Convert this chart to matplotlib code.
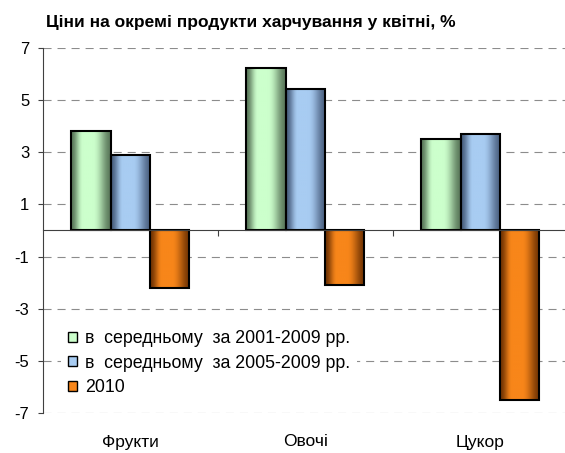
import numpy as np
import matplotlib
matplotlib.use("Agg")
import matplotlib.pyplot as plt
from matplotlib import transforms
from matplotlib.patches import Patch
from matplotlib.colors import to_rgb

plt.rcParams['font.family'] = ['Liberation Sans', 'DejaVu Sans']
plt.rcParams['lines.scale_dashes'] = False
plt.rcParams['axes.unicode_minus'] = False

title = "Ціни на окремі продукти харчування у квітні, %"
categories = ["Фрукти", "Овочі", "Цукор"]
series_names = ["в  середньому  за 2001-2009 рр.",
                "в  середньому  за 2005-2009 рр.",
                "2010"]
avg_2001_2009 = [3.8, 6.2, 3.5]
avg_2005_2009 = [2.9, 5.4, 3.7]
y2010 = [-2.2, -2.1, -6.5]
yticks = [-7, -5, -3, -1, 1, 3, 5, 7]

series = [avg_2001_2009, avg_2005_2009, y2010]
light_cols = ["#CCFFCC", "#A8CCF2", "#F8861A"]
dark_cols = ["#5A785A", "#4A6080", "#723403"]

W, H = 565, 453
fig = plt.figure(figsize=(W / 100, H / 100), dpi=100)
ax = fig.add_axes([42.7 / W, 1 - 413.3 / H, 525 / W, (413.3 - 47.5) / H])


def gradient(light, dark, n=100):
    t = np.linspace(0, 1, n)
    g = np.interp(t, [0, 0.3, 0.55, 1.0], [0.0, 1.0, 1.0, 0.05])
    g = 0.5 - 0.5 * np.cos(np.pi * g)
    l = np.array(to_rgb(light))
    d = np.array(to_rgb(dark))
    img = d[None, :] + (l - d)[None, :] * g[:, None]
    return img[None, :, :]


bw = 0.225
x = np.arange(len(categories))
for i, vals in enumerate(series):
    bars = ax.bar(x + (i - 1) * bw, vals, width=bw, facecolor='none',
                  edgecolor='black', linewidth=1.5, zorder=4)
    for p in bars.patches:
        x0, y0 = p.get_x(), p.get_y()
        w, h = p.get_width(), p.get_height()
        im = ax.imshow(gradient(light_cols[i], dark_cols[i]),
                       extent=[x0, x0 + w, min(y0, y0 + h), max(y0, y0 + h)],
                       aspect='auto', zorder=3, interpolation='bilinear')
        im.set_clip_path(p)

ax.set_xlim(-0.5, len(categories) - 0.5)
ax.set_ylim(-7, 7)

# grid
ax.set_yticks(yticks)
ax.yaxis.grid(True, linestyle=(0, (5.8, 4.3)), color='#8C8C8C', linewidth=0.8)
ax.set_axisbelow(True)

for s in ['top', 'right']:
    ax.spines[s].set_visible(False)
ax.spines['left'].set_color('#404040')
ax.spines['left'].set_linewidth(0.8)
ax.spines['bottom'].set_position(('data', 0))
ax.spines['bottom'].set_color('#404040')
ax.spines['bottom'].set_linewidth(0.8)
ax.spines['bottom'].set_zorder(5)

ax.set_xticks(x[:-1] + 0.5)
ax.set_xticklabels([])
ax.tick_params(axis='x', direction='out', length=4, width=0.8, color='#404040')
ax.tick_params(axis='y', direction='out', length=3.6, width=0.8, color='#404040',
               labelsize=12, pad=6)

trans = transforms.blended_transform_factory(ax.transData, fig.transFigure)
for xi, c in zip(x, categories):
    ax.text(xi, 1 - 442 / H, c, transform=trans, ha='center', va='center',
            fontsize=12.5)

fig.text(46 / W, 1 - 27 / H, title, fontsize=12.5, fontweight='bold',
         ha='left', va='baseline')

handles = [Patch(facecolor=light_cols[i], edgecolor='black', linewidth=1.0)
           for i in range(3)]
leg = ax.legend(handles, series_names, loc='upper left',
                bbox_to_anchor=(60.6 / W, 1 - 323 / H),
                bbox_transform=fig.transFigure, frameon=True, fontsize=12.8,
                handlelength=0.5, handleheight=0.5, handletextpad=0.48,
                labelspacing=0.42, borderpad=0.4, borderaxespad=0,
                fancybox=False, framealpha=1.0, facecolor='white',
                edgecolor='none')
leg.set_zorder(6)

fig.savefig("out.png", dpi=100)
